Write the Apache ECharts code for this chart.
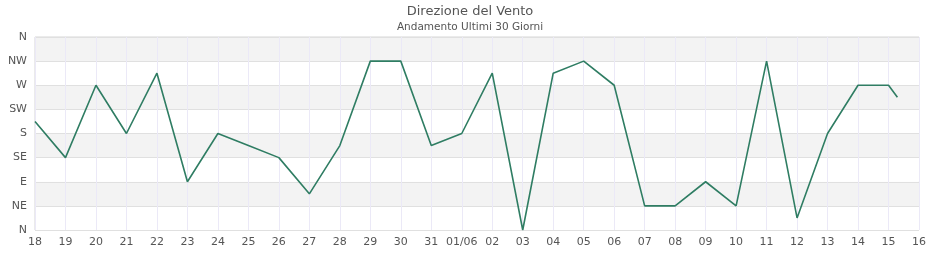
<!DOCTYPE html>
<html>
<head>
<meta charset="utf-8">
<script src="https://cdn.jsdelivr.net/npm/echarts@6/dist/echarts.min.js"></script>
<style>
  html, body { margin: 0; padding: 0; background: #fff; }
  #chart { width: 940px; height: 260px; }
</style>
</head>
<body>
<div id="chart"></div>
<script>
  // giorni di rilevazione (ultimo punto a meta' mattina del 15/06)
  const times = [
    '2024-05-18', '2024-05-19', '2024-05-20', '2024-05-21', '2024-05-22',
    '2024-05-23', '2024-05-24', '2024-05-25', '2024-05-26', '2024-05-27',
    '2024-05-28', '2024-05-29', '2024-05-30', '2024-05-31', '2024-06-01',
    '2024-06-02', '2024-06-03', '2024-06-04', '2024-06-05', '2024-06-06',
    '2024-06-07', '2024-06-08', '2024-06-09', '2024-06-10', '2024-06-11',
    '2024-06-12', '2024-06-13', '2024-06-14', '2024-06-15', '2024-06-15T07:00'
  ];
  // direzione in gradi
  const directions = [
    202.5, 135, 270, 180, 292.5,
    90, 180, 157.5, 135, 67.5,
    157.5, 315, 315, 157.5, 180,
    292.5, 0, 292.5, 315, 270,
    45, 45, 90, 45, 315,
    22.5, 180, 270, 270, 247.5
  ];
  const yLabels = ['N', 'NE', 'E', 'SE', 'S', 'SW', 'W', 'NW', 'N'];

  const DAY = 86400000;
  function toUtc(s) {
    let p = s.split('T');
    let d = p[0].split('-').map(Number);
    let h = p[1] ? Number(p[1].split(':')[0]) : 0;
    return Date.UTC(d[0], d[1] - 1, d[2], h);
  }
  const xMin = toUtc('2024-05-18');
  const xMax = toUtc('2024-06-16');

  let seriesData = [];
  for (let i = 0; i < times.length; i++) {
    seriesData.push([toUtc(times[i]), directions[i]]);
  }

  let myChart = echarts.init(document.getElementById('chart'));
  myChart.setOption({
    animation: false,
    title: {
      text: 'Direzione del Vento',
      subtext: 'Andamento Ultimi 30 Giorni',
      left: 'center',
      top: 0,
      itemGap: 4,
      textStyle: { fontFamily: 'DejaVu Sans', fontSize: 13, fontWeight: 'normal', color: '#555' },
      subtextStyle: { fontFamily: 'DejaVu Sans', fontSize: 10.5, color: '#555' }
    },
    grid: { left: 35, right: 21, top: 37, bottom: 30, show: true, borderColor: '#d6d6d6', borderWidth: 1 },
    xAxis: {
      type: 'value',
      min: xMin,
      max: xMax,
      interval: DAY,
      axisLine: { show: false },
      axisTick: { show: false },
      splitLine: { show: true, lineStyle: { color: '#ebe9f7', width: 1 } },
      axisLabel: {
        margin: 7,
        color: '#555',
        fontFamily: 'DejaVu Sans',
        fontSize: 11,
        showMinLabel: true,
        showMaxLabel: true,
        formatter: function (v) {
          let d = new Date(v);
          let dd = ('0' + d.getUTCDate()).slice(-2);
          if (d.getUTCDate() == 1) {
            return dd + '/' + ('0' + (d.getUTCMonth() + 1)).slice(-2);
          }
          return dd;
        }
      }
    },
    yAxis: {
      type: 'value',
      min: 0,
      max: 360,
      interval: 45,
      axisLine: { show: false },
      axisTick: { show: false },
      splitLine: { show: true, lineStyle: { color: '#e0e0e0', width: 1 } },
      splitArea: { show: true, areaStyle: { color: ['#ffffff', '#f3f3f3'] } },
      axisLabel: {
        margin: 8,
        color: '#555',
        fontFamily: 'DejaVu Sans',
        fontSize: 11,
        formatter: function (v) {
          return yLabels[Math.round(v / 45)];
        }
      }
    },
    series: [{
      type: 'line',
      data: seriesData,
      showSymbol: false,
      symbol: 'none',
      lineStyle: { color: '#2f7d63', width: 1.6 },
      itemStyle: { color: '#2f7d63' }
    }]
  });
</script>
</body>
</html>
